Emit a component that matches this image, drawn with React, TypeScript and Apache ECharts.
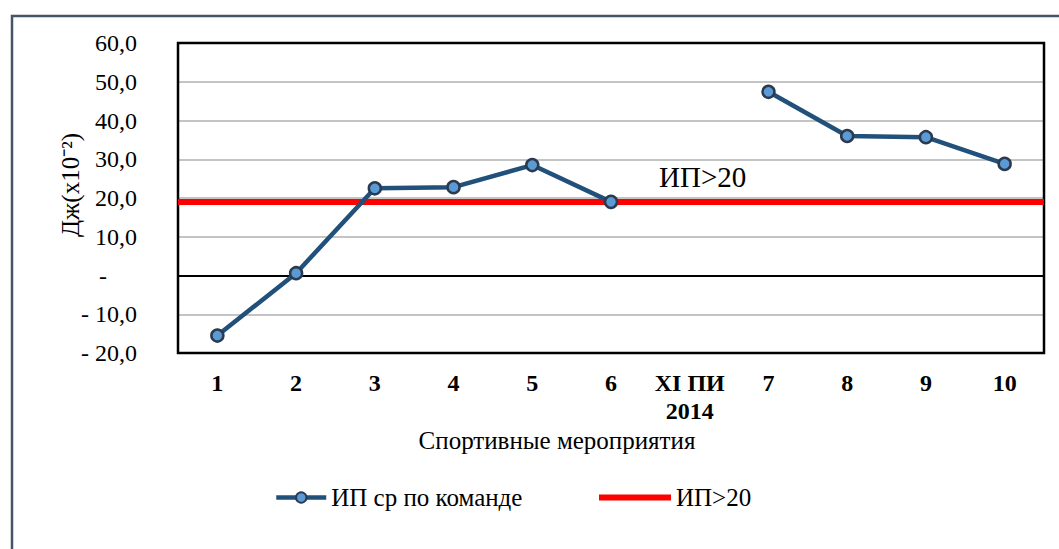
import React, { useEffect, useRef } from "react";
import * as echarts from "echarts";

const categories = ["1", "2", "3", "4", "5", "6", "XI ПИ\n2014", "7", "8", "9", "10"];
const teamValues: (number | null)[] = [-15.5, 0.6, 22.5, 22.8, 28.5, 19.0, null, 47.4, 36.0, 35.7, 28.8];
const thresholdValue = 19.0;
const seriesNames = ["ИП ср по команде", "ИП>20"];
const yTicks = [-20, -10, 0, 10, 20, 30, 40, 50, 60];
const xTitle = "Спортивные мероприятия";
const yTitle = "Дж(x10⁻²)";
const thresholdLabel = "ИП>20";

const FONT = "Liberation Serif";

export default function App() {
  const ref = useRef<HTMLDivElement>(null);
  useEffect(() => {
    if (!ref.current) return;
    const chart = echarts.init(ref.current, undefined, { renderer: "svg" });
    const legendText = { fontFamily: FONT, fontSize: 25, color: "#000" };
    chart.setOption({
      animation: false,
      backgroundColor: "#ffffff",
      textStyle: { fontFamily: FONT },
      graphic: [
        {
          type: "rect",
          shape: { x: 12, y: 16, width: 1060, height: 560 },
          style: { fill: "none", stroke: "#44546a", lineWidth: 2.5 },
          silent: true,
          z: -1,
        },
        {
          type: "text",
          left: 659,
          top: 162,
          style: { text: thresholdLabel, font: `29px ${FONT}`, fill: "#000" },
        },
        {
          type: "text",
          x: 70,
          y: 185,
          rotation: Math.PI / 2,
          style: {
            text: yTitle,
            font: `25px ${FONT}`,
            fill: "#000",
            align: "center",
            verticalAlign: "middle",
          },
        },
        {
          type: "text",
          x: 557,
          y: 440,
          style: {
            text: xTitle,
            font: `25px ${FONT}`,
            fill: "#000",
            align: "center",
            verticalAlign: "middle",
          },
        },
      ],
      legend: [
        {
          top: 480,
          left: 269,
          itemWidth: 50,
          itemHeight: 13,
          textStyle: legendText,
          data: [{ name: seriesNames[0], lineStyle: { width: 4.5, color: "#21507a" } }],
        },
        {
          top: 480,
          left: 591,
          itemWidth: 72,
          itemHeight: 13,
          textStyle: legendText,
          data: [
            { name: seriesNames[1], itemStyle: { opacity: 0 }, lineStyle: { width: 6, color: "#ff0000" } },
          ],
        },
      ],
      grid: { left: 178, top: 43, right: 15, bottom: 196, containLabel: false },
      xAxis: {
        type: "category",
        data: categories,
        boundaryGap: true,
        position: "bottom",
        axisLine: { show: false, onZero: false },
        axisTick: { show: false },
        axisLabel: {
          fontFamily: FONT,
          fontSize: 24,
          fontWeight: "bold",
          color: "#000",
          margin: 16,
          lineHeight: 28,
          interval: 0,
        },
        splitLine: { show: false },
      },
      yAxis: {
        type: "value",
        min: yTicks[0],
        max: yTicks[yTicks.length - 1],
        interval: 10,
        axisLine: { show: false },
        axisTick: { show: false },
        axisLabel: {
          fontFamily: FONT,
          fontSize: 24,
          color: "#000",
          margin: 41,
          align: "right",
          formatter: (v: number) => {
            if (v === 0) return "-     ";
            const s = Math.abs(v).toFixed(1).replace(".", ",");
            return v < 0 ? "- " + s : s;
          },
        },
        splitLine: { show: true, lineStyle: { color: "#b0b0b0", width: 1.5 } },
      },
      series: [
        {
          name: seriesNames[0],
          type: "line",
          data: teamValues,
          connectNulls: false,
          symbol: "circle",
          symbolSize: 12,
          lineStyle: { color: "#21507a", width: 4.5 },
          itemStyle: { color: "#5b9bd5", borderColor: "#2b3a4f", borderWidth: 2.5 },
          z: 5,
          markLine: {
            silent: true,
            symbol: "none",
            label: { show: false },
            lineStyle: { color: "#000", width: 2, type: "solid" },
            data: [{ yAxis: 0 }],
            z: 1,
          },
        },
        {
          name: seriesNames[1],
          type: "line",
          data: [],
          symbol: "none",
          lineStyle: { color: "#ff0000", width: 6 },
          itemStyle: { color: "#ff0000" },
          z: 4,
          markLine: {
            silent: true,
            symbol: "none",
            label: { show: false },
            lineStyle: { color: "#ff0000", width: 6, type: "solid" },
            data: [{ yAxis: thresholdValue }],
          },
        },
        {
          type: "line",
          data: [],
          markArea: {
            silent: true,
            itemStyle: { color: "none", borderColor: "#000", borderWidth: 2.5 },
            data: [[{ x: 178, y: 43 }, { x: 1044, y: 353 }]],
          },
        },
      ],
    });
    return () => chart.dispose();
  }, []);
  return (
    <div
      ref={ref}
      style={{ position: "absolute", left: 0, top: 0, width: 1059, height: 549 }}
    />
  );
}
